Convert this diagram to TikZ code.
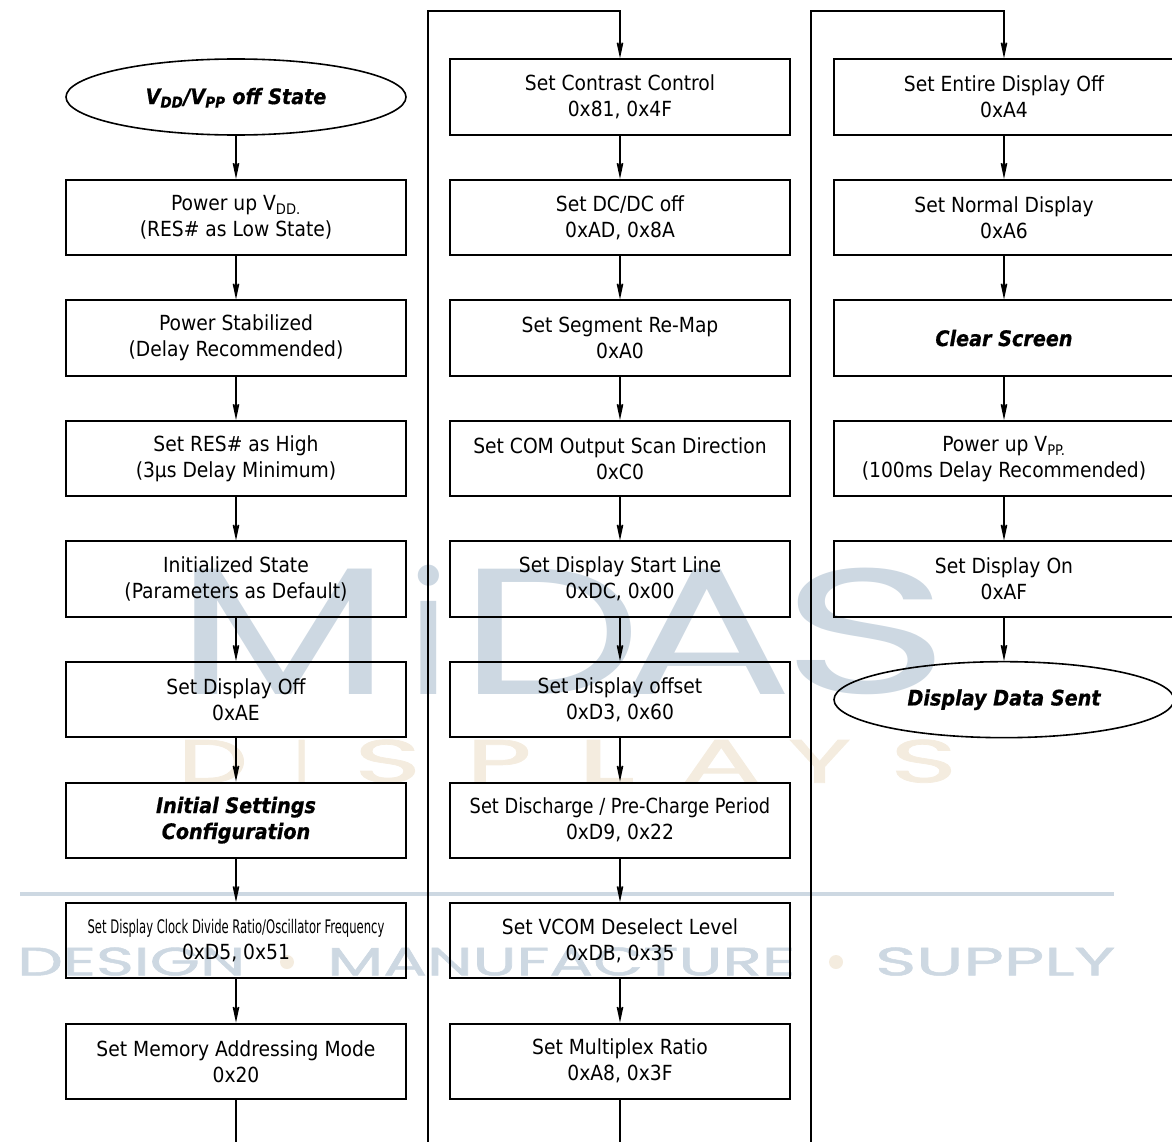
\documentclass[tikz,border=0pt]{standalone}
\usepackage{fontspec}
\setmainfont{DejaVu Sans Condensed}
\newfontfamily\markfont{Poppins}
\newfontfamily\markfontb[FakeBold=1.2]{Poppins}
\newfontfamily\headfont[BoldItalicFeatures={FakeBold=0.7}]{DejaVu Sans Condensed}
\usetikzlibrary{arrows.meta,shapes.geometric}
\definecolor{markblue}{HTML}{CDD8E2}
\definecolor{marktan}{HTML}{F4ECDF}
\newcommand{\letterat}[2]{\resizebox{#1pt}{#2pt}}
\newcommand{\lowtext}[1]{\smash{\textsubscript{#1}}}

\begin{document}
\begin{tikzpicture}[x=0.75pt,y=0.75pt,node distance=90.4pt,
    >={Stealth[length=18.5pt,width=8pt,inset=10pt]}]
        \tikzstyle{p} = [rectangle, text centered, draw=black, line width=1.5pt,
                         minimum width=255pt, minimum height=56.5pt, inner sep=0pt,
                         font=\fontsize{15.6}{19.5}\selectfont, align=center]
        \tikzstyle{b} = [p, font=\fontsize{16}{19.5}\selectfont\headfont\bfseries\itshape]
        \tikzstyle{s} = [ellipse, text centered, draw=black, line width=1.2pt,
                         minimum width=255pt, minimum height=57pt, inner sep=0pt,
                         font=\fontsize{16}{19.5}\selectfont\headfont\bfseries\itshape]
        \tikzstyle{c} = [line width=1.2pt]
        \tikzstyle{m} = [inner sep=0pt, anchor=south west, text=markblue, font=\markfont]
        \tikzstyle{t} = [m, text=marktan, font=\markfontb]
        \tikzstyle{w} = [m, font=\markfontb]
        \tikzstyle{o} = [circle, fill=marktan, inner sep=0pt, minimum size=10.5pt]

        \useasboundingbox (0,0) rectangle (1172,-1142);

        % background lettering
        \node(markm)  [m] at (175,-695) {\letterat{162}{94}{M}};
        \node(marki)  [m] at (407,-695) {\letterat{32}{97}{i}};
        \node(markd)  [m] at (458,-695) {\letterat{138}{94}{D}};
        \node(marka)  [m] at (620,-695) {\letterat{130}{94}{A}};
        \node(marks)  [m] at (780,-695) {\letterat{128}{94}{S}};
        \node(dispa)  [t] at (178,-783) {\letterat{52}{32}{D}};
        \node(dispb)  [t] at (294,-783) {\letterat{11}{32}{I}};
        \node(dispc)  [t] at (354,-783) {\letterat{50}{32}{S}};
        \node(dispd)  [t] at (466,-783) {\letterat{49}{32}{P}};
        \node(dispe)  [t] at (577,-783) {\letterat{43}{32}{L}};
        \node(dispf)  [t] at (681,-783) {\letterat{60}{32}{A}};
        \node(dispg)  [t] at (788,-783) {\letterat{47}{32}{Y}};
        \node(disph)  [t] at (890,-783) {\letterat{50}{32}{S}};
        \node(wdes)   [w] at (17,-976)  {\letterat{171}{21}{DESIGN}};
        \node(wman)   [w] at (327,-976) {\letterat{351}{21}{MANUFACTURE}};
        \node(wsup)   [w] at (875,-976) {\letterat{180}{21}{SUPPLY}};
        \node(wdot)   [o] at (287,-962) {};
        \node(wdott)  [o] at (836,-962) {};
        \coordinate (barl) at (20,-894);
        \coordinate (barr) at (1114,-894);
        \draw[markblue, line width=3pt] (barl) -- (barr);

        % first column
        \node(off)    [s] at (236,-97)        {V\lowtext{DD}/V\lowtext{PP} off State};
        \node(vdd)    [p, below of=off]       {Power up V\lowtext{DD.}\\(RES\# as Low State)};
        \node(stab)   [p, below of=vdd]       {Power Stabilized\\(Delay Recommended)};
        \node(res)    [p, below of=stab]      {Set RES\# as High\\(3µs Delay Minimum)};
        \node(init)   [p, below of=res]       {Initialized State\\(Parameters as Default)};
        \node(dispoff)[p, below of=init]      {Set Display Off\\0xAE};
        \node(conf)   [b, below of=dispoff]   {Initial Settings\\Configuration};
        \node(clock)  [p, below of=conf]      {\scalebox{0.62}[0.9]{Set Display Clock Divide Ratio/Oscillator Frequency}\\0xD5, 0x51};
        \node(mem)    [p, below of=clock]     {Set Memory Addressing Mode\\0x20};

        % second column
        \node(contr)  [p] at (620,-97)        {Set Contrast Control\\0x81, 0x4F};
        \node(dcdc)   [p, below of=contr]     {Set DC/DC off\\0xAD, 0x8A};
        \node(remap)  [p, below of=dcdc]      {Set Segment Re-Map\\0xA0};
        \node(scan)   [p, below of=remap]     {Set COM Output Scan Direction\\0xC0};
        \node(start)  [p, below of=scan]      {Set Display Start Line\\0xDC, 0x00};
        \node(offset) [p, below of=start]     {Set Display offset\\0xD3, 0x60};
        \node(charge) [p, below of=offset]    {\scalebox{0.95}[1]{Set Discharge / Pre-Charge Period}\\0xD9, 0x22};
        \node(vcom)   [p, below of=charge]    {Set VCOM Deselect Level\\0xDB, 0x35};
        \node(mux)    [p, below of=vcom]      {Set Multiplex Ratio\\0xA8, 0x3F};

        % third column
        \node(entire) [p] at (1004,-97)       {Set Entire Display Off\\0xA4};
        \node(normal) [p, below of=entire]    {Set Normal Display\\0xA6};
        \node(clear)  [b, below of=normal]    {Clear Screen};
        \node(vpp)    [p, below of=clear]     {Power up V\lowtext{PP.}\\(100ms Delay Recommended)};
        \node(dispon) [p, below of=vpp]       {Set Display On\\0xAF};
        \node(sent)   [s, below of=dispon]    {Display Data Sent};

        \coordinate (outa)  at (236,-1142);
        \coordinate (inb)   at (428,-1142);
        \coordinate (topb)  at (428,-11);
        \coordinate (outb)  at (620,-1142);
        \coordinate (inc)   at (811,-1142);
        \coordinate (topc)  at (811,-11);

        \draw[->, c] (off) -- (vdd);
        \draw[->, c] (vdd) -- (stab);
        \draw[->, c] (stab) -- (res);
        \draw[->, c] (res) -- (init);
        \draw[->, c] (init) -- (dispoff);
        \draw[->, c] (dispoff) -- (conf);
        \draw[->, c] (conf) -- (clock);
        \draw[->, c] (clock) -- (mem);
        \draw[c] (mem) -- (outa);

        \draw[->, c] (inb) -- (topb) -| (contr);
        \draw[->, c] (contr) -- (dcdc);
        \draw[->, c] (dcdc) -- (remap);
        \draw[->, c] (remap) -- (scan);
        \draw[->, c] (scan) -- (start);
        \draw[->, c] (start) -- (offset);
        \draw[->, c] (offset) -- (charge);
        \draw[->, c] (charge) -- (vcom);
        \draw[->, c] (vcom) -- (mux);
        \draw[c] (mux) -- (outb);

        \draw[->, c] (inc) -- (topc) -| (entire);
        \draw[->, c] (entire) -- (normal);
        \draw[->, c] (normal) -- (clear);
        \draw[->, c] (clear) -- (vpp);
        \draw[->, c] (vpp) -- (dispon);
        \draw[->, c] (dispon) -- (sent);
      \end{tikzpicture}
\end{document}
